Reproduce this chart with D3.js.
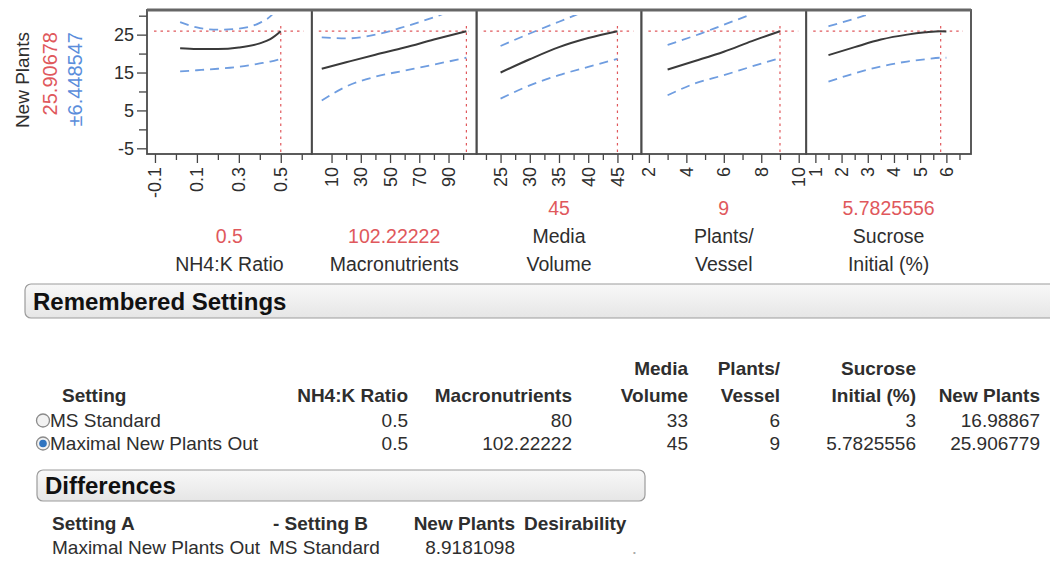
<!DOCTYPE html>
<html>
<head>
<meta charset="utf-8">
<script src="https://cdn.jsdelivr.net/npm/d3@7/dist/d3.min.js"></script>
<style>
  body { margin: 0; background: #fff; }
  svg { display: block; }
  text { font-family: "Liberation Sans", Arial, sans-serif; }
</style>
</head>
<body>
<svg id="chart" width="1050" height="565"></svg>
<script>
// ---- Prediction profiler: factors, current settings, axis ticks ----
const factorNames   = [["NH4:K Ratio"], ["Macronutrients"], ["Media", "Volume"], ["Plants/", "Vessel"], ["Sucrose", "Initial (%)"]];
const currentLabels = ["0.5", "102.22222", "45", "9", "5.7825556"];
const currentValues = [0.5, 102.22222, 45, 9, 5.7825556];
const xDomains      = [[-0.138, 0.648], [-3.5, 109.2], [20.9, 49.1], [1.6, 10.4], [0.65, 6.94]];
const majorTicks    = [[-0.1, 0.1, 0.3, 0.5], [10, 30, 50, 70, 90], [25, 30, 35, 40, 45], [2, 4, 6, 8, 10], [1, 2, 3, 4, 5, 6]];
const majorLabels   = [["-0.1", "0.1", "0.3", "0.5"], ["10", "30", "50", "70", "90"], ["25", "30", "35", "40", "45"], ["2", "4", "6", "8", "10"], ["1", "2", "3", "4", "5", "6"]];
const minorTicks    = [[0, 0.2, 0.4, 0.6], [20, 40, 60, 80, 100], [22.5, 27.5, 32.5, 37.5, 42.5, 47.5], [3, 5, 7, 9], [1.5, 2.5, 3.5, 4.5, 5.5, 6.5]];

const responseName  = "New Plants";
const responseValue = 25.906779;
const responseLabel = "25.90678";
const ciLabel       = "±6.448547";
const yDomain       = [-6.5, 31.5];
const yMajorTicks   = [-5, 5, 15, 25];
const yMajorLabels  = ["-5", "5", "15", "25"];
const yMinorTicks   = [0, 10, 20, 30];

// ---- Profile traces (fit with lower / upper confidence limits) ----
const nh4X      = [0.02, 0.1, 0.2, 0.3, 0.4, 0.45, 0.5];
const nh4Fit    = [21.4, 21.2, 21.2, 21.6, 22.7, 23.8, 25.9];
const nh4Lower  = [15.3, 15.6, 16.0, 16.5, 17.4, 17.9, 18.6];
const nh4Upper  = [28.3, 26.9, 26.3, 26.6, 28.1, 29.8, 33.2];

const macroX     = [3.3, 20, 40, 60, 80, 102.2];
const macroFit   = [16.0, 17.7, 19.7, 21.6, 23.7, 25.9];
const macroLower = [7.6, 11.3, 13.9, 15.5, 17.1, 18.9];
const macroUpper = [24.3, 24.0, 25.0, 27.1, 29.6, 32.8];

const volumeX     = [25, 30, 35, 40, 45];
const volumeFit   = [15.0, 18.5, 21.7, 24.1, 25.9];
const volumeLower = [8.1, 11.6, 14.3, 16.5, 18.6];
const volumeUpper = [22.0, 25.3, 28.4, 31.4, 33.2];

const plantsX     = [3, 4.5, 6, 7.5, 9];
const plantsFit   = [15.8, 18.1, 20.5, 23.3, 25.9];
const plantsLower = [9.0, 12.2, 14.3, 16.6, 18.8];
const plantsUpper = [22.3, 24.8, 27.6, 30.4, 33.0];

const sucroseX     = [1.5, 2.5, 3.5, 4.5, 5.2, 5.78, 6];
const sucroseFit   = [19.6, 21.7, 23.7, 25.0, 25.6, 25.9, 25.85];
const sucroseLower = [12.6, 14.8, 16.6, 17.9, 18.5, 18.9, 18.9];
const sucroseUpper = [27.2, 29.2, 31.4, 32.6, 32.9, 32.9, 32.8];

const profiles = [
  { x: nh4X,     fit: nh4Fit,     lo: nh4Lower,     hi: nh4Upper },
  { x: macroX,   fit: macroFit,   lo: macroLower,   hi: macroUpper },
  { x: volumeX,  fit: volumeFit,  lo: volumeLower,  hi: volumeUpper },
  { x: plantsX,  fit: plantsFit,  lo: plantsLower,  hi: plantsUpper },
  { x: sucroseX, fit: sucroseFit, lo: sucroseLower, hi: sucroseUpper }
];

// ---- Remembered settings table ----
const settingHeaders1 = ["", "", "", "Media", "Plants/", "Sucrose", ""];
const settingHeaders2 = ["Setting", "NH4:K Ratio", "Macronutrients", "Volume", "Vessel", "Initial (%)", "New Plants"];
const settingNames    = ["MS Standard", "Maximal New Plants Out"];
const settingNH4      = ["0.5", "0.5"];
const settingMacro    = ["80", "102.22222"];
const settingVolume   = ["33", "45"];
const settingPlants   = ["6", "9"];
const settingSucrose  = ["3", "5.7825556"];
const settingResponse = ["16.98867", "25.906779"];
const selectedSetting = 1;

// ---- Differences table ----
const diffHeaders = ["Setting A", "- Setting B", "New Plants", "Desirability"];
const diffRow     = ["Maximal New Plants Out", "MS Standard", "8.9181098", "."];

// ================= drawing =================
const svg = d3.select("#chart");
const FONT_DARK = "#2e2e2e";
const RED = "#e0585c";
const BLUE = "#5a8ddb";

const defs = svg.append("defs");
const grad = defs.append("linearGradient").attr("id", "outlineFill")
  .attr("x1", 0).attr("y1", 0).attr("x2", 0).attr("y2", 1);
grad.append("stop").attr("offset", "0%").attr("stop-color", "#f8f8f8");
grad.append("stop").attr("offset", "100%").attr("stop-color", "#e6e6e6");

const frameTop = 10, frameBottom = 154;
const panelLeft = 147, panelWidth = 164.8;
const y = d3.scaleLinear().domain(yDomain).range([frameBottom, frameTop]);

const plot = svg.append("g");

// Y axis (left side of first panel)
const yAxisMajor = d3.axisLeft(y).tickValues(yMajorTicks).tickSize(10).tickPadding(3)
  .tickFormat((d, k) => yMajorLabels[k]);
const yAxisMinor = d3.axisLeft(y).tickValues(yMinorTicks).tickSize(8).tickFormat("");
[yAxisMajor, yAxisMinor].forEach(ax => {
  const g = plot.append("g").attr("transform", `translate(${panelLeft},0)`).call(ax);
  g.select(".domain").remove();
  g.selectAll("line").attr("stroke", "#444").attr("stroke-width", 1.3);
  g.selectAll("text").attr("fill", FONT_DARK).style("font-size", "18px");
});

// Response title block (rotated)
const titles = [
  { text: responseName, x: 22, color: FONT_DARK, size: 19 },
  { text: responseLabel, x: 50, color: RED, size: 20 },
  { text: ciLabel, x: 75, color: BLUE, size: 20 }
];
titles.forEach(t => {
  plot.append("text")
    .attr("transform", `translate(${t.x},32) rotate(-90)`)
    .attr("text-anchor", "end").attr("dy", "0.35em")
    .attr("fill", t.color).style("font-size", t.size + "px")
    .text(t.text);
});

const line = d3.line().curve(d3.curveMonotoneX);

profiles.forEach((p, i) => {
  const x0 = panelLeft + i * panelWidth;
  const x = d3.scaleLinear().domain(xDomains[i]).range([x0, x0 + panelWidth]);
  const g = plot.append("g");

  // clip for confidence traces
  const clipId = "clip" + i;
  defs.append("clipPath").attr("id", clipId).append("rect")
    .attr("x", x0).attr("y", y(30.2)).attr("width", panelWidth).attr("height", frameBottom - y(30.2));

  // reference lines at the current setting / predicted response
  g.append("line")
    .attr("x1", x0 + 7).attr("x2", x0 + panelWidth - 8)
    .attr("y1", y(responseValue)).attr("y2", y(responseValue))
    .attr("stroke", RED).attr("stroke-width", 1.2).attr("stroke-dasharray", "2.5,4");
  g.append("line")
    .attr("x1", x(currentValues[i])).attr("x2", x(currentValues[i]))
    .attr("y1", 26).attr("y2", frameBottom - 2)
    .attr("stroke", RED).attr("stroke-width", 1.2).attr("stroke-dasharray", "2.5,4");

  // confidence limits
  [p.lo, p.hi].forEach(vals => {
    g.append("path")
      .attr("clip-path", `url(#${clipId})`)
      .attr("d", line(p.x.map((v, k) => [x(v), y(vals[k])])))
      .attr("fill", "none").attr("stroke", "#6f9de0").attr("stroke-width", 1.8)
      .attr("stroke-dasharray", "9,6");
  });

  // prediction trace
  g.append("path")
    .attr("d", line(p.x.map((v, k) => [x(v), y(p.fit[k])])))
    .attr("fill", "none").attr("stroke", "#3a3a3a").attr("stroke-width", 2);

  // x axis
  const axMajor = d3.axisBottom(x).tickValues(majorTicks[i]).tickSize(9).tickFormat("");
  const axMinor = d3.axisBottom(x).tickValues(minorTicks[i]).tickSize(6).tickFormat("");
  [axMajor, axMinor].forEach(ax => {
    const ga = g.append("g").attr("transform", `translate(0,${frameBottom})`).call(ax);
    ga.select(".domain").remove();
    ga.selectAll("line").attr("stroke", "#444").attr("stroke-width", 1.3);
  });
  g.selectAll(null).data(majorTicks[i]).enter().append("text")
    .attr("transform", d => `translate(${x(d)},167) rotate(-90)`)
    .attr("text-anchor", "end").attr("dy", "0.36em")
    .attr("fill", FONT_DARK).style("font-size", "18px")
    .text((d, k) => majorLabels[i][k]);

  // factor name and current value
  const cx = x0 + panelWidth / 2;
  const names = factorNames[i];
  const lastBase = 271;
  names.forEach((nm, k) => {
    g.append("text").attr("x", cx).attr("y", lastBase - (names.length - 1 - k) * 28)
      .attr("text-anchor", "middle").attr("fill", FONT_DARK).style("font-size", "19.5px").text(nm);
  });
  g.append("text").attr("x", cx).attr("y", lastBase - names.length * 28)
    .attr("text-anchor", "middle").attr("fill", RED).style("font-size", "19.5px").text(currentLabels[i]);

  // panel frame
  g.append("rect").attr("x", x0).attr("y", frameTop).attr("width", panelWidth).attr("height", frameBottom - frameTop)
    .attr("fill", "none").attr("stroke", "#4a4a4a").attr("stroke-width", 1.8);
});
plot.append("line").attr("x1", panelLeft).attr("x2", panelLeft + 5 * panelWidth)
  .attr("y1", frameTop).attr("y2", frameTop).attr("stroke", "#666").attr("stroke-width", 3);

// ---- outline headers ----
function outline(x, yTop, w, h, title) {
  svg.append("rect").attr("x", x).attr("y", yTop).attr("width", w).attr("height", h)
    .attr("rx", 6).attr("fill", "url(#outlineFill)").attr("stroke", "#9c9c9c").attr("stroke-width", 1.2);
  svg.append("text").attr("x", x + 8).attr("y", yTop + h / 2).attr("dy", "0.36em")
    .attr("fill", "#111").style("font-size", "24px").style("font-weight", "bold").text(title);
}
outline(25, 284, 1040, 34, "Remembered Settings");

// ---- remembered settings table ----
const colRight = [null, 408, 572, 688, 780, 916, 1040];
const hdr1 = 375, hdr2 = 402, row0 = 427, rowStep = 23;
settingHeaders1.forEach((h, c) => {
  if (!h) return;
  svg.append("text").attr("x", colRight[c]).attr("y", hdr1).attr("text-anchor", "end")
    .attr("fill", FONT_DARK).style("font-size", "19px").style("font-weight", "bold").text(h);
});
settingHeaders2.forEach((h, c) => {
  const isFirst = c === 0;
  svg.append("text").attr("x", isFirst ? 62 : colRight[c]).attr("y", hdr2)
    .attr("text-anchor", isFirst ? "start" : "end")
    .attr("fill", FONT_DARK).style("font-size", "19px").style("font-weight", "bold").text(h);
});
const columns = [settingNH4, settingMacro, settingVolume, settingPlants, settingSucrose, settingResponse];
settingNames.forEach((nm, r) => {
  const yy = row0 + r * rowStep;
  // radio button
  const cy = yy - 6.5;
  svg.append("circle").attr("cx", 43).attr("cy", cy).attr("r", 6.5)
    .attr("fill", "#f2f2f2").attr("stroke", "#8a8a8a").attr("stroke-width", 1.3);
  if (r === selectedSetting) {
    svg.append("circle").attr("cx", 43).attr("cy", cy).attr("r", 3.8).attr("fill", "#2f74c0");
  }
  svg.append("text").attr("x", 50).attr("y", yy).attr("fill", FONT_DARK).style("font-size", "19px").text(nm);
  columns.forEach((col, c) => {
    svg.append("text").attr("x", colRight[c + 1]).attr("y", yy).attr("text-anchor", "end")
      .attr("fill", FONT_DARK).style("font-size", "19px").text(col[r]);
  });
});

// ---- differences ----
outline(37, 470, 608, 31, "Differences");
const diffX = [52, 273, 515, 524];
const diffAnchor = ["start", "start", "end", "start"];
diffHeaders.forEach((h, c) => {
  svg.append("text").attr("x", diffX[c]).attr("y", 530).attr("text-anchor", diffAnchor[c])
    .attr("fill", FONT_DARK).style("font-size", "19px").style("font-weight", "bold").text(h);
});
const diffRowX = [52, 269, 515, 637];
const diffRowAnchor = ["start", "start", "end", "end"];
diffRow.forEach((v, c) => {
  svg.append("text").attr("x", diffRowX[c]).attr("y", 554).attr("text-anchor", diffRowAnchor[c])
    .attr("fill", c === 3 ? "#aaa" : FONT_DARK).style("font-size", "19px").text(v);
});
</script>
</body>
</html>
